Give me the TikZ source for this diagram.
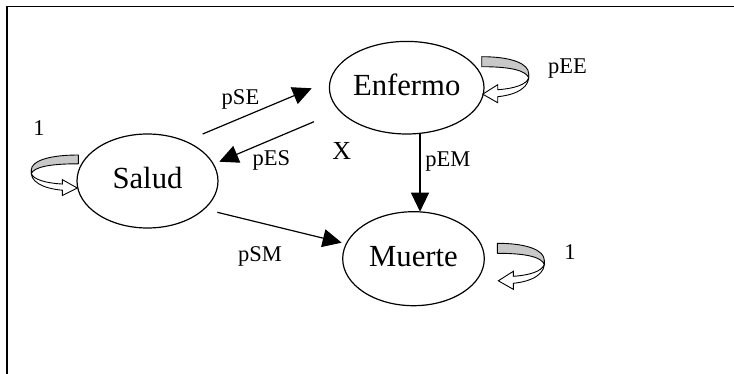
\documentclass[tikz,border=0pt]{standalone}
\usepackage{fontspec}
\setmainfont{Liberation Serif}
\usetikzlibrary{arrows.meta, shapes.geometric}
\definecolor{bandgray}{RGB}{200,200,200}
\tikzset{
  state/.style={draw, ellipse, line width=1.2pt, inner sep=0pt,
    text height=21pt, text depth=5pt,
    font=\fontsize{30.7}{36}\selectfont},
  prob/.style={anchor=base, inner sep=0pt, font=\fontsize{22.5}{26}\selectfont},
  trans/.style={line width=1.2pt, -{Triangle[length=19pt,width=18pt]}},
  % curved self-transition arrow: grey band on top, white ribbon ending in a hollow head
  curl/.pic={
    \filldraw[fill=bandgray, line width=0.9pt, line join=round]
      (0,0) .. controls (30,0) and (47,7) .. (47,17) -- (47,21)
      .. controls (44,14) and (30,10) .. (0,10) -- cycle;
    \filldraw[fill=white, line width=0.9pt, line join=miter]
      (47,17) .. controls (49,30) and (36,38) .. (16,40) -- (16,46) -- (1,37.5)
      -- (16,28) -- (16,33) .. controls (32,32) and (45,28) .. (47,21) -- cycle;
  }
}
\begin{document}
\begin{tikzpicture}[x=1pt, y=-1pt]
  \useasboundingbox (0,0) rectangle (734,374);
  % frame
  \draw[line width=1.5pt] (7,374) -- (7,6.5) -- (734,6.5);

  % states
  \node[state, minimum width=141pt, minimum height=94pt] (salud) at (147.5,181) {Salud};
  \node[state, minimum width=154.6pt, minimum height=92.6pt] (enfermo) at (406.7,87.7) {Enfermo};
  \node[state, minimum width=141.6pt, minimum height=94pt] (muerte) at (413.5,258.7) {Muerte};

  % connector end points
  \coordinate (sSE) at (202.7,134);  \coordinate (eSE) at (311.7,88.3);
  \coordinate (sES) at (314,121.7);  \coordinate (eES) at (219.3,161.7);
  \coordinate (sEM) at (420,134);    \coordinate (eEM) at (420,211.7);
  \coordinate (sSM) at (217.3,212.3); \coordinate (eSM) at (341.7,242.7);

  \draw[trans] (sSE) -- (eSE);
  \draw[trans] (sES) -- (eES);
  \draw[trans] (sEM) -- (eEM);
  \draw[trans] (sSM) -- (eSM);

  % self transitions
  \pic at (481.7,56.7) {curl};
  \pic at (497.3,243.3) {curl};
  \pic[xscale=-1, yscale=0.88] at (78.3,155) {curl};

  % labels
  \node[prob] (lSE) at (240.5,104.3) {pSE};
  \node[prob] (lES) at (271.3,166) {pES};
  \node[prob, font=\fontsize{26}{30}\selectfont] (lX) at (341.7,159.3) {X};
  \node[prob] (lEM) at (447.8,166.7) {pEM};
  \node[prob] (lSM) at (260,261.7) {pSM};
  \node[prob] (lEE) at (567.5,73.3) {pEE};
  \node[prob] (lMM) at (570,259.3) {1};
  \node[prob] (lSS) at (39,135.7) {1};
\end{tikzpicture}
\end{document}
